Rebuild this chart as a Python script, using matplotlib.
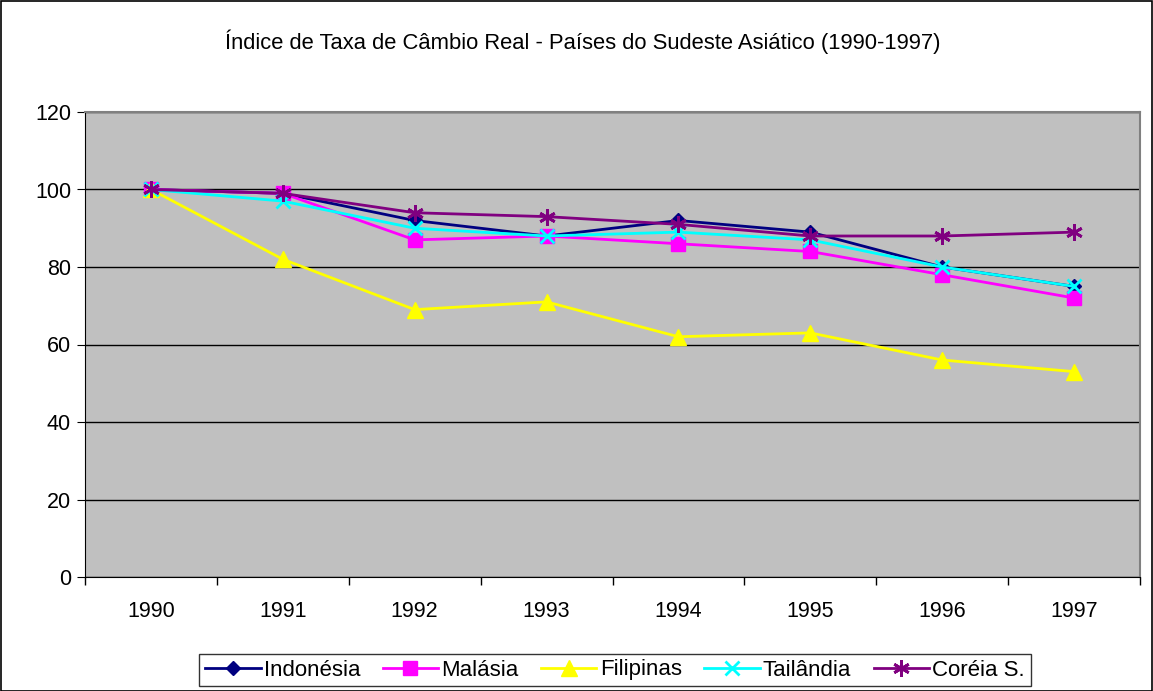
import numpy as np
import matplotlib
matplotlib.use("Agg")
import matplotlib.pyplot as plt
from matplotlib.patches import Rectangle

plt.rcParams['font.family'] = ['Liberation Sans', 'DejaVu Sans']

anos = ['1990', '1991', '1992', '1993', '1994', '1995', '1996', '1997']
indonesia = [100, 99, 92, 88, 92, 89, 80, 75]
malasia = [100, 99, 87, 88, 86, 84, 78, 72]
filipinas = [100, 82, 69, 71, 62, 63, 56, 53]
tailandia = [100, 97, 90, 88, 89, 87, 80, 75]
coreia = [100, 99, 94, 93, 91, 88, 88, 89]

series = [
    (indonesia, '#000080', 'D', 7.5),
    (malasia, '#FF00FF', 's', 10),
    (filipinas, '#FFFF00', '^', 11),
    (tailandia, '#00FFFF', 'x', 10),
    (coreia, '#800080', (6, 2, 0), 12),
]
nomes = ['Indonésia', 'Malásia', 'Filipinas', 'Tailândia', 'Coréia S.']

fig = plt.figure(figsize=(11.53, 6.91), dpi=100)
ax = fig.add_axes([85 / 1153, 1 - 577 / 691, (1140 - 85) / 1153, (577 - 112) / 691])
ax.set_facecolor('#C0C0C0')

x = np.arange(len(anos))
linhas = []
for (vals, cor, mk, ms), rot in zip(series, nomes):
    mew = 2 if mk in ('x', (6, 2, 0)) else 1
    l, = ax.plot(x, vals, color=cor, marker=mk, markersize=ms, linewidth=2,
                 markeredgewidth=mew, markeredgecolor=cor, label=rot)
    linhas.append(l)

ax.set_xlim(-0.5, len(anos) - 0.5)
ax.set_ylim(0, 120)
ax.set_yticks(range(0, 121, 20))
ax.yaxis.grid(True, color='black', linewidth=1)
ax.set_axisbelow(True)
ax.set_xticks(x)
ax.set_xticklabels(anos)
ax.set_xticks(np.arange(-0.5, len(anos), 1), minor=True)
ax.tick_params(axis='x', which='major', length=0, pad=17, labelsize=15.5)
ax.tick_params(axis='x', which='minor', length=6, direction='out', width=1)
ax.tick_params(axis='y', length=6, direction='out', labelsize=15.5, pad=4)
for s in ['top', 'right']:
    ax.spines[s].set_color('#808080')
    ax.spines[s].set_linewidth(1.5)
for s in ['left', 'bottom']:
    ax.spines[s].set_color('black')

fig.text(583 / 1153, 1 - 42 / 691,
         'Índice de Taxa de Câmbio Real - Países do Sudeste Asiático (1990-1997)',
         ha='center', va='center', fontsize=15.8)

leg = fig.legend(handles=linhas, loc='center', bbox_to_anchor=(615 / 1153, 1 - 670 / 691),
                 ncol=5, frameon=True, fancybox=False, edgecolor='black', fontsize=16,
                 handlelength=2.5, handletextpad=0.15, columnspacing=1.0,
                 borderpad=0.25, borderaxespad=0)
leg.get_frame().set_linewidth(1)

fig.patches.append(Rectangle((0.5 / 1153, 0.5 / 691), 1 - 1.5 / 1153, 1 - 1.5 / 691,
                             transform=fig.transFigure, fill=False,
                             edgecolor='black', linewidth=1.2))

fig.savefig('out.png', dpi=100)
